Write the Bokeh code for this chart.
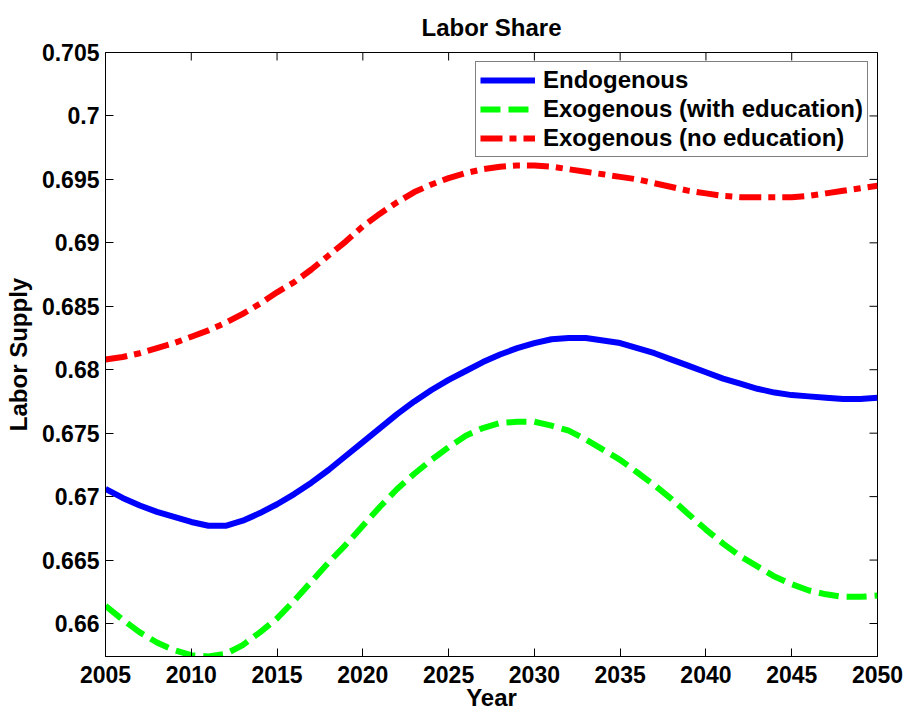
import math
from bokeh.plotting import figure
from bokeh.models import FixedTicker, Legend, LegendItem, Range1d
from bokeh.embed import file_html
from bokeh.resources import INLINE

# ---- data ----
years = list(range(2005, 2051))

endogenous = [
    0.6706, 0.6699, 0.6693, 0.6688, 0.6684, 0.6680, 0.6677, 0.6677, 0.6681, 0.6687,
    0.6694, 0.6702, 0.6711, 0.6721, 0.6732, 0.6743, 0.6754, 0.6765, 0.6775, 0.6784,
    0.6792, 0.6799, 0.6806, 0.6812, 0.6817, 0.6821, 0.6824, 0.6825, 0.6825, 0.6823,
    0.6821, 0.6817, 0.6813, 0.6808, 0.6803, 0.6798, 0.6793, 0.6789, 0.6785, 0.6782,
    0.6780, 0.6779, 0.6778, 0.6777, 0.6777, 0.6778,
]

exo_with_edu = [
    0.6614, 0.6603, 0.6593, 0.6585, 0.6579, 0.6575, 0.6574, 0.6576, 0.6583, 0.6593,
    0.6604, 0.6618, 0.6633, 0.6648, 0.6662, 0.6677, 0.6692, 0.6706, 0.6718, 0.6729,
    0.6739, 0.6748, 0.6754, 0.6758, 0.6759, 0.6759, 0.6756, 0.6752, 0.6745, 0.6737,
    0.6729, 0.6719, 0.6709, 0.6698, 0.6686, 0.6674, 0.6663, 0.6653, 0.6645, 0.6637,
    0.6631, 0.6626, 0.6623, 0.6621, 0.6621, 0.6622,
]

exo_no_edu = [
    0.6808, 0.6810, 0.6813, 0.6817, 0.6821, 0.6826, 0.6831, 0.6837, 0.6844, 0.6852,
    0.6861, 0.6869, 0.6879, 0.6890, 0.6901, 0.6913, 0.6923, 0.6932, 0.6940, 0.6946,
    0.6951, 0.6955, 0.6958, 0.6960, 0.6961, 0.6961, 0.6960, 0.6958, 0.6956, 0.6954,
    0.6952, 0.6950, 0.6947, 0.6944, 0.6941, 0.6939, 0.6937, 0.6936, 0.6936, 0.6936,
    0.6936, 0.6937, 0.6939, 0.6941, 0.6943, 0.6945,
]

series_labels = ["Endogenous", "Exogenous (with education)", "Exogenous (no education)"]

x_ticks = [2005, 2010, 2015, 2020, 2025, 2030, 2035, 2040, 2045, 2050]
y_ticks = [0.66, 0.665, 0.67, 0.675, 0.68, 0.685, 0.69, 0.695, 0.70, 0.705]
y_tick_labels = ["0.66", "0.665", "0.67", "0.675", "0.68", "0.685", "0.69", "0.695", "0.7", "0.705"]

x_min, x_max = 2005, 2050
y_min, y_max = 0.6574, 0.705

FONT = "Liberation Sans"
TICK_FS = "23px"
LABEL_FS = "24px"

p = figure(
    width=905, height=713,
    x_range=Range1d(x_min, x_max), y_range=Range1d(y_min, y_max),
    output_backend="svg", toolbar_location=None,
    min_border_left=105, min_border_right=28, min_border_top=50, min_border_bottom=55,
    title="Labor Share",
)
p.background_fill_color = "white"
p.border_fill_color = "white"
p.outline_line_color = "black"
p.outline_line_width = 1
p.xgrid.visible = False
p.ygrid.visible = False

p.title.text_font = FONT
p.title.text_font_size = LABEL_FS
p.title.text_font_style = "bold"
p.title.align = "center"
p.title.text_color = "black"
p.title.standoff = 23

r1 = p.line(years, endogenous, line_color="#0000ff", line_width=6, line_join="round")
r2 = p.line(years, exo_with_edu, line_color="#00ff00", line_width=6, line_dash="20 8", line_join="round")
r3 = p.line(years, exo_no_edu, line_color="#ff0000", line_width=6, line_dash="22 7 7 7", line_join="round")

# inward tick marks on the top and right edges of the box (MATLAB "box on")
p.scatter(x_ticks, [y_max] * len(x_ticks), marker="dash", size=16, angle=math.pi / 2,
          line_color="black", line_width=1)
p.scatter([x_max] * len(y_ticks), y_ticks, marker="dash", size=16,
          line_color="black", line_width=1)


def style_axis(ax):
    ax.axis_line_color = "black"
    ax.axis_line_width = 1
    ax.major_tick_in = 8
    ax.major_tick_out = 0
    ax.major_tick_line_color = "black"
    ax.minor_tick_line_color = None
    ax.major_label_text_font = FONT
    ax.major_label_text_font_style = "bold"
    ax.major_label_text_font_size = TICK_FS
    ax.major_label_text_color = "black"
    ax.axis_label_text_font = FONT
    ax.axis_label_text_font_style = "bold"
    ax.axis_label_text_font_size = LABEL_FS
    ax.axis_label_text_color = "black"


xa = p.xaxis[0]
xa.ticker = FixedTicker(ticks=x_ticks)
style_axis(xa)
xa.axis_label = "Year"
xa.major_label_standoff = 9
xa.axis_label_standoff = -2

ya = p.yaxis[0]
ya.ticker = FixedTicker(ticks=y_ticks)
ya.major_label_overrides = {t: s for t, s in zip(y_ticks, y_tick_labels)}
style_axis(ya)
ya.axis_label = "Labor Supply"
ya.major_label_standoff = 6
ya.axis_label_standoff = 7

legend = Legend(items=[
    LegendItem(label=series_labels[0], renderers=[r1]),
    LegendItem(label=series_labels[1], renderers=[r2]),
    LegendItem(label=series_labels[2], renderers=[r3]),
], location="top_right")
legend.label_text_font = FONT
legend.label_text_font_style = "bold"
legend.label_text_font_size = LABEL_FS
legend.label_text_color = "black"
legend.border_line_color = "black"
legend.border_line_width = 1
legend.background_fill_color = "white"
legend.background_fill_alpha = 1
legend.glyph_width = 55
legend.glyph_height = 26
legend.label_height = 26
legend.spacing = 1
legend.padding = 4
legend.margin = 9
legend.label_standoff = 8
p.add_layout(legend)

open("out.html", "w").write(file_html(p, INLINE))
